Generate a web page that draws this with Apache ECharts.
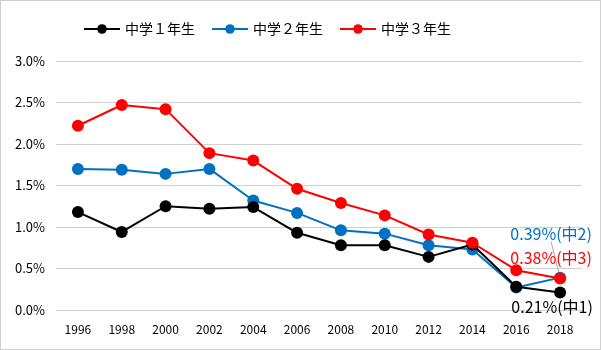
<!DOCTYPE html>
<html><head><meta charset="utf-8">
<script src="https://cdn.jsdelivr.net/npm/echarts@6/dist/echarts.min.js"></script>
<style>
html,body{margin:0;padding:0;background:#fff;}
#c{width:601px;height:350px;box-sizing:border-box;border:1px solid #d0d0d0;}
</style></head><body>
<div id="c"></div>
<script>
const years = ['1996','1998','2000','2002','2004','2006','2008','2010','2012','2014','2016','2018'];
const grade1 = [1.18,0.94,1.25,1.22,1.24,0.93,0.78,0.78,0.64,0.79,0.28,0.21];
const grade2 = [1.70,1.69,1.64,1.70,1.32,1.17,0.96,0.92,0.78,0.73,0.27,0.39];
const grade3 = [2.22,2.47,2.42,1.89,1.80,1.46,1.29,1.14,0.91,0.81,0.48,0.38];
const seriesNames = ['中学１年生','中学２年生','中学３年生'];
const endLabels = ['0.21%(中1)','0.39%(中2)','0.38%(中3)'];
const yTicks = [0,0.5,1.0,1.5,2.0,2.5,3.0];

const colors = ['#000000','#0070C0','#FF0000'];
const font = '"Noto Sans CJK JP", "Noto Sans", sans-serif';
const labelShift = [[-8,14],[-9,-44],[-9,-21]];
const zOrder = [3, 2, 4];

function mk(i, vals){
  const last = vals.length - 1;
  const data = vals.map((v, k) => {
    if (k !== last) return v;
    return {
      value: v,
      label: {
        show: true, formatter: endLabels[i], color: colors[i],
        fontSize: 16, fontFamily: font, position: 'inside'
      }
    };
  });
  return {
    name: seriesNames[i], type: 'line', data: data,
    symbol: 'circle', symbolSize: 12,
    lineStyle: {width: 2, color: colors[i]},
    itemStyle: {color: colors[i]},
    labelLayout: p => (p.dataIndex === last ? {dx: labelShift[i][0], dy: labelShift[i][1]} : {}),
    labelLine: {show: i === 1, lineStyle: {color: '#a6a6a6', width: 1}},
    z: zOrder[i]
  };
}

const chart = echarts.init(document.getElementById('c'), null, {renderer:'canvas'});
chart.setOption({
  animation: false,
  legend: {
    top: 16, left: 77, itemWidth: 36, itemHeight: 12, itemGap: 16,
    textStyle: {fontSize: 14, fontFamily: font, color: '#000'},
    data: seriesNames
  },
  grid: {left: 55, right: 18, top: 60, bottom: 39},
  xAxis: {
    type: 'category', data: years, boundaryGap: true,
    axisLine: {show: false}, axisTick: {show: false},
    axisLabel: {fontSize: 12, color: '#000', margin: 13, fontFamily: font}
  },
  yAxis: {
    type: 'value', min: yTicks[0], max: yTicks[yTicks.length-1], interval: 0.5,
    axisLine: {show: false}, axisTick: {show: false},
    splitLine: {lineStyle: {color: '#d0d0d0', width: 1}},
    axisLabel: {fontSize: 13, color: '#000', margin: 11, fontFamily: font,
      formatter: v => v.toFixed(1) + '%'}
  },
  series: [mk(0, grade1), mk(1, grade2), mk(2, grade3)]
});
</script>
</body></html>
